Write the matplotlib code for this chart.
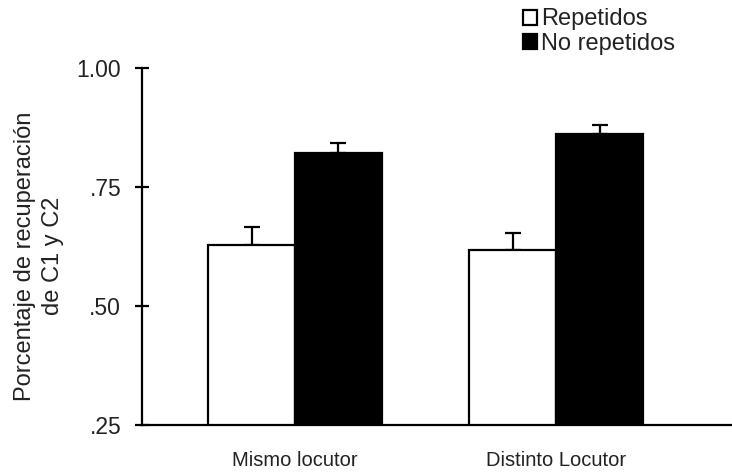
import numpy as np
import matplotlib.pyplot as plt

# Data
grupos = ["Mismo locutor", "Distinto Locutor"]
repetidos = [0.628, 0.618]
repetidos_err = [0.038, 0.035]
no_repetidos = [0.821, 0.861]
no_repetidos_err = [0.021, 0.019]

plt.rcParams['font.family'] = ['Liberation Sans', 'DejaVu Sans']

fig = plt.figure(figsize=(7.32, 4.73), dpi=100)
ax = fig.add_axes([0.194, 0.1015, 0.806, 0.7547])

x = np.arange(len(grupos))
w = 0.333
lw = 1.6

ax.bar(x - w / 2, repetidos, w, color='white', edgecolor='black',
       linewidth=lw, label='Repetidos', zorder=2)
ax.bar(x + w / 2, no_repetidos, w, color='black', edgecolor='black',
       linewidth=lw, label='No repetidos', zorder=2)

ax.errorbar(x - w / 2, repetidos, yerr=[np.zeros(2), repetidos_err], fmt='none',
            ecolor='black', elinewidth=lw, capsize=6, capthick=lw, zorder=1)
ax.errorbar(x + w / 2, no_repetidos, yerr=[np.zeros(2), no_repetidos_err], fmt='none',
            ecolor='black', elinewidth=lw, capsize=6, capthick=lw, zorder=1)

ax.set_ylim(0.25, 1.0)
ax.set_xlim(-0.586, 1.674)
ax.set_yticks([0.25, 0.50, 0.75, 1.00])
ax.set_yticklabels(['.25', '.50', '.75', '1.00'])
ax.set_xticks(x)
ax.set_xticklabels(grupos)
ax.tick_params(axis='x', length=0, pad=19, labelsize=14.5, colors='#222222')
ax.tick_params(axis='y', direction='inout', length=10, width=lw, pad=10,
               labelsize=16.5, labelcolor='#222222')

ax.spines['top'].set_visible(False)
ax.spines['right'].set_visible(False)
ax.spines['left'].set_linewidth(lw)
ax.spines['bottom'].set_linewidth(lw)

fig.text(39 / 732, 1 - 256 / 473, 'Porcentaje de recuperación\nde C1 y C2', fontsize=17,
         rotation=90, ha='center', va='center', multialignment='center',
         color='#222222', linespacing=1.3)

fig.legend(loc='upper left', bbox_to_anchor=(0.688, 1.022), frameon=False, fontsize=17,
           handlelength=0.6, handleheight=0.6, handletextpad=0.2, labelspacing=0.12,
           borderpad=0.3, labelcolor='#222222')

plt.savefig('out.png', dpi=100)
